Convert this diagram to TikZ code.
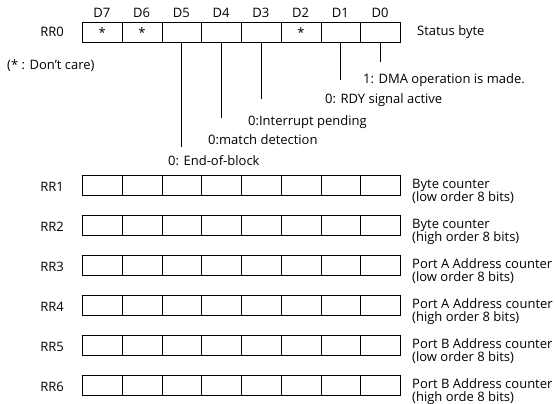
\documentclass[tikz,border=0pt]{standalone}
\usepackage{fontspec}
\setmainfont{Open Sans}
\begin{document}
\begin{tikzpicture}[x=1pt,y=-1pt,
  every node/.style={font=\fontsize{13}{13}\selectfont, inner sep=0pt},
  cell/.style={draw, line width=0.8pt, minimum width=39.75pt, minimum height=20pt, anchor=north west},
  lead/.style={line width=0.7pt},
  lbl/.style={anchor=base west}]
\useasboundingbox (0,0) rectangle (555,404);
% RR0
\foreach \i in {0,...,7} {
  \pgfmathtruncatemacro{\bit}{7-\i}
  \node[cell] (r0c\bit) at ({82+39.75*\i},22) {};
  \node[anchor=base] (d\bit) at ({82+39.75*\i+19.875},18) {D\bit};
}
\node at (r0c7.center) {*};
\node at (r0c6.center) {*};
\node at (r0c2.center) {*};
\node[anchor=base east] (rr0) at (64,37) {RR0};
\node[lbl] (sb) at (417,36) {Status byte};
\node[lbl] (dc) at (7,70) {(* : Don't care)};
% leaders
\coordinate (e5) at (r0c5.south |- 0,147);
\coordinate (e4) at (r0c4.south |- 0,118);
\coordinate (e3) at (r0c3.south |- 0,99);
\coordinate (e1) at (r0c1.south |- 0,80);
\coordinate (e0) at (r0c0.south |- 0,62);
\draw[lead] (r0c5.south) -- (e5);
\draw[lead] (r0c4.south) -- (e4);
\draw[lead] (r0c3.south) -- (e3);
\draw[lead] (r0c1.south) -- (e1);
\draw[lead] (r0c0.south) -- (e0);
\node[lbl] (t0) at (363,84) {1: DMA operation is made.};
\node[lbl] (t1) at (325,104) {0: RDY signal active};
\node[lbl] (t3) at (248,125) {0:Interrupt pending};
\node[lbl] (t4) at (208,145) {0:match detection};
\node[lbl] (t5) at (168,165) {0: End-of-block};
% RR1..RR6
\foreach \r/\la/\lb in {1/Byte counter/(low order 8 bits),
                        2/Byte counter/(high order 8 bits),
                        3/Port A Address counter/(low order 8 bits),
                        4/Port A \hspace{0.5pt}Address counter/(high order 8 bits),
                        5/Port B Address counter/(low order 8 bits),
                        6/Port B Address counter/(high orde 8 bits)} {
  \pgfmathsetmacro{\top}{135+40*\r}
  \foreach \i in {0,...,7} {
    \pgfmathtruncatemacro{\bit}{7-\i}
    \node[cell] (r\r c\bit) at ({82+39.75*\i},\top) {};
  }
  \node[anchor=base east] (rr\r) at (64,\top+16) {RR\r};
  \node[lbl] (la\r) at (412,\top+13) {\la};
  \node[lbl] (lb\r) at (412,\top+26) {\lb};
}
\end{tikzpicture}
\end{document}
